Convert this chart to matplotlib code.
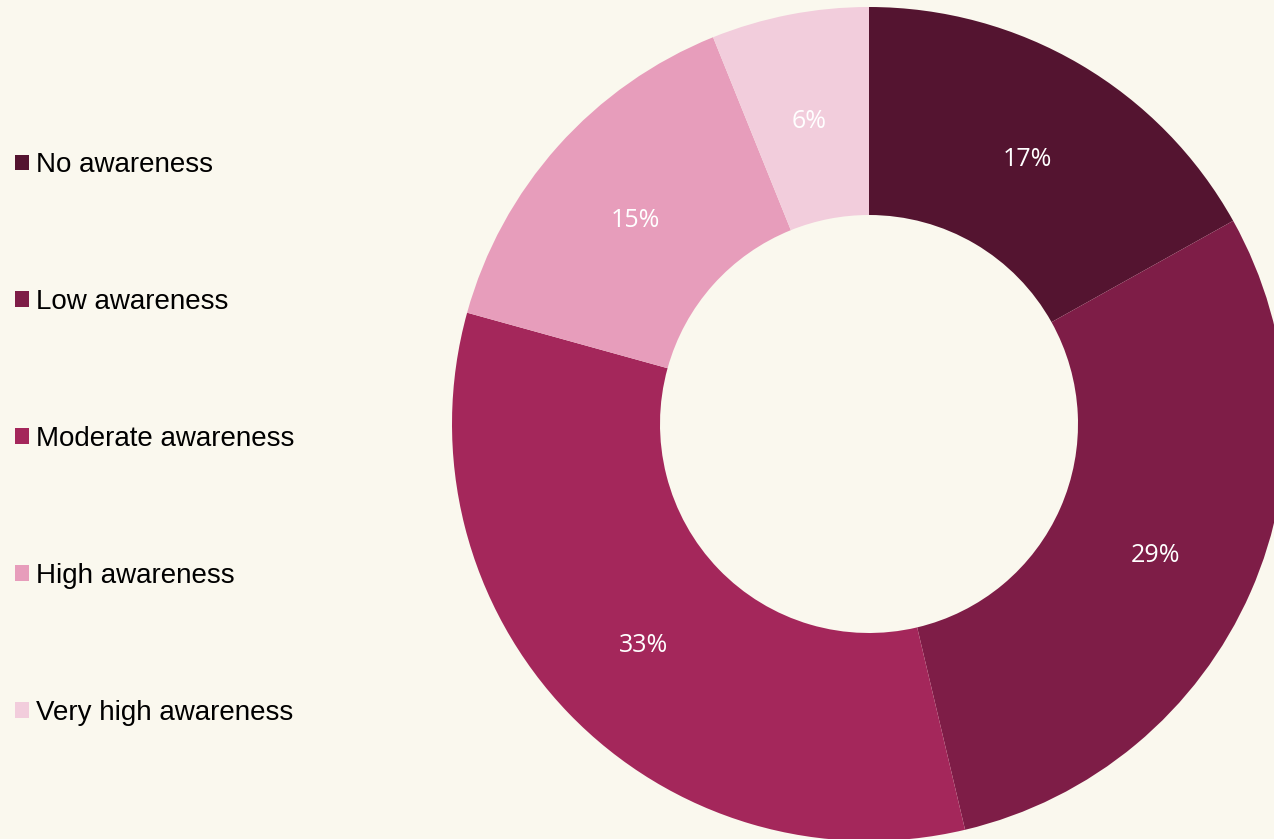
import matplotlib.pyplot as plt
from matplotlib.patches import Patch

# Data (shares)
labels = ['No awareness', 'Low awareness', 'Moderate awareness',
          'High awareness', 'Very high awareness']
shares = [16.9, 29.4, 33.0, 14.6, 6.1]
colors = ['#541430', '#7E1D47', '#A4275B', '#E79DBB', '#F2CDDC']
bg = '#FAF8EE'

fig = plt.figure(figsize=(12.74, 8.39), dpi=100, facecolor=bg)
ax = fig.add_axes([0, 0, 1, 1])
ax.set_facecolor(bg)

# donut in pixel-like data coords
wedges, texts, autotexts = ax.pie(
    shares, colors=colors, startangle=90, counterclock=False,
    center=(869, 415), radius=417,
    wedgeprops=dict(width=208, linewidth=0),
    autopct='%.0f%%', pctdistance=0.75,
    textprops=dict(color='white', fontsize=18, family='Open Sans'))
for t in autotexts:
    t.set_y(t.get_position()[1] - 5)

ax.set_xlim(0, 1274)
ax.set_ylim(0, 839)
ax.set_aspect('equal')
ax.axis('off')

handles = [Patch(facecolor=c, edgecolor='none') for c in colors]
leg = ax.legend(handles, labels, loc='center left',
                bbox_to_anchor=(15 / 1274, 400 / 839),
                frameon=False, labelspacing=3.99, borderpad=0, borderaxespad=0,
                handlelength=0.5, handleheight=0.5, handletextpad=0.25,
                prop=dict(family='Liberation Sans', size=20))

fig.savefig('out.png', dpi=100, facecolor=bg)
